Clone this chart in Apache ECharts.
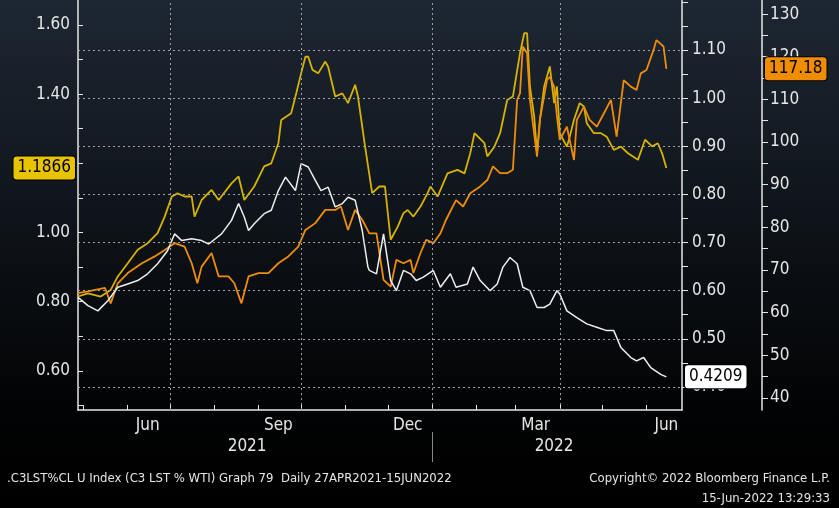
<!DOCTYPE html>
<html>
<head>
<meta charset="utf-8">
<script src="https://cdn.jsdelivr.net/npm/echarts@6/dist/echarts.min.js"></script>
<style>
html,body{margin:0;padding:0;background:#000;}
#chart{width:839px;height:508px;}
</style>
</head>
<body>
<div id="chart"></div>
<script>
// C3 LST % WTI 图，数据为自 2021-04-27 起的天数
const START = Date.UTC(2021, 3, 27);
const DAY = 86400000;
const FONT = '"DejaVu Sans Condensed", "Liberation Sans Narrow", sans-serif';

const yellow = [[0,0.815],[7,0.824],[16,0.815],[23,0.834],[28,0.873],[35,0.911],[42,0.950],[49,0.969],[56,0.998],[61,1.046],[66,1.104],[70,1.113],[75,1.104],[80,1.104],[82,1.046],[87,1.094],[94,1.123],[99,1.094],[108,1.142],[113,1.162],[117,1.094],[124,1.133],[131,1.191],[136,1.200],[141,1.258],[143,1.325],[150,1.345],[153,1.393],[157,1.460],[160,1.508],[162,1.508],[165,1.470],[169,1.460],[174,1.494],[176,1.479],[181,1.393],[186,1.402],[190,1.374],[195,1.427],[197,1.393],[202,1.248],[207,1.114],[212,1.133],[216,1.133],[220,0.979],[225,1.017],[229,1.056],[232,1.065],[236,1.046],[241,1.075],[246,1.114],[248,1.133],[253,1.104],[260,1.171],[267,1.181],[272,1.171],[276,1.229],[279,1.287],[286,1.258],[288,1.220],[293,1.248],[297,1.287],[302,1.383],[306,1.393],[311,1.518],[314,1.576],[316,1.576],[318,1.422],[321,1.335],[323,1.229],[325,1.325],[328,1.422],[330,1.451],[332,1.480],[335,1.374],[337,1.422],[339,1.287],[344,1.248],[346,1.277],[349,1.326],[353,1.374],[356,1.364],[358,1.316],[363,1.287],[368,1.287],[372,1.277],[377,1.239],[382,1.248],[387,1.229],[394,1.210],[399,1.268],[404,1.249],[408,1.258],[411,1.229],[414,1.1866]];

const orange = [[0,64.6],[7,65.0],[19,65.8],[23,62.2],[28,66.9],[35,69.3],[45,71.6],[54,73.2],[61,74.7],[68,76.3],[75,75.5],[80,71.6],[84,66.9],[87,70.8],[94,74.0],[99,68.5],[106,68.5],[110,66.9],[115,62.2],[120,68.5],[127,69.3],[134,69.3],[141,71.6],[148,73.2],[155,75.5],[160,79.4],[167,81.0],[174,84.1],[181,84.1],[185,84.9],[190,79.4],[195,84.1],[200,81.8],[205,78.6],[210,78.6],[215,67.7],[220,66.1],[224,72.4],[229,71.6],[234,72.4],[236,69.3],[241,74.0],[245,77.1],[250,76.3],[255,78.6],[259,81.8],[266,86.4],[271,84.9],[276,88.0],[283,89.6],[288,91.1],[292,94.3],[297,92.7],[302,92.7],[306,93.5],[309,109.9],[311,111.4],[313,122.4],[316,120.8],[318,109.9],[323,96.6],[325,105.2],[330,114.5],[332,115.3],[335,113.0],[337,106.0],[339,100.5],[344,103.6],[349,95.8],[351,105.2],[356,108.3],[360,105.2],[365,103.6],[370,106.7],[375,109.9],[379,101.3],[384,114.5],[389,113.0],[393,112.2],[396,116.1],[400,116.9],[405,121.6],[407,123.9],[412,122.4],[414,117.18]];

const white = [[0,0.586],[7,0.569],[14,0.558],[21,0.579],[28,0.607],[35,0.614],[42,0.621],[49,0.635],[56,0.656],[63,0.683],[68,0.718],[73,0.704],[80,0.708],[87,0.704],[92,0.697],[101,0.718],[108,0.746],[113,0.781],[117,0.753],[120,0.725],[124,0.739],[131,0.760],[136,0.767],[141,0.808],[146,0.836],[153,0.808],[157,0.864],[162,0.857],[167,0.829],[171,0.808],[176,0.815],[181,0.774],[186,0.781],[190,0.794],[195,0.788],[200,0.725],[204,0.649],[205,0.642],[210,0.635],[215,0.718],[220,0.621],[224,0.600],[229,0.642],[234,0.635],[238,0.621],[243,0.628],[250,0.642],[255,0.607],[262,0.635],[266,0.607],[274,0.614],[278,0.649],[283,0.621],[290,0.600],[295,0.614],[299,0.649],[304,0.669],[309,0.656],[313,0.607],[318,0.600],[323,0.565],[328,0.565],[332,0.572],[337,0.600],[339,0.593],[344,0.558],[351,0.544],[358,0.531],[365,0.524],[372,0.517],[377,0.517],[382,0.482],[389,0.461],[393,0.454],[398,0.461],[403,0.440],[410,0.426],[414,0.4209]];

const toTime = arr => arr.map(([d, v]) => [START + d * DAY, v]);
const utc = (y, m, d) => Date.UTC(y, m - 1, d);

const monthStarts = [];
for (let i = 5; i <= 18; i++) monthStarts.push(Date.UTC(2021, i - 1, 1));
const monthLabels = [utc(2021,6,15), utc(2021,9,15), utc(2021,12,15), utc(2022,3,15), utc(2022,6,15)];
const quarterLines = [utc(2021,7,1), utc(2021,10,1), utc(2022,1,1), utc(2022,4,1)];
const monthNames = ['Jan','Feb','Mar','Apr','May','Jun','Jul','Aug','Sep','Oct','Nov','Dec'];

const axisText = { color: '#e6e6e6', fontSize: 17, fontFamily: FONT };
const dash = { color: '#a0a0a0', type: [2, 3], width: 1 };
const foot = { color: '#e6e6e6', fontSize: 13, fontWeight: 'normal', fontFamily: FONT };

function pointer(value, bg, fg, fmt) {
  return {
    show: true, value, status: 'show', triggerTooltip: false, triggerEmphasis: false,
    lineStyle: { opacity: 0 },
    label: { show: true, backgroundColor: bg, color: fg, fontSize: 17, fontFamily: FONT,
      padding: [3, 4], borderColor: '#000', borderWidth: 1, formatter: () => fmt }
  };
}

const chart = echarts.init(document.getElementById('chart'));
chart.setOption({
  animation: false,
  backgroundColor: new echarts.graphic.LinearGradient(0, 0, 0, 1, [
    { offset: 0, color: '#1d2733' }, { offset: 0.8, color: '#020304' }, { offset: 1, color: '#000' }
  ]),
  grid: { left: 78, right: 157, top: 0, bottom: 98 },
  title: [
    { text: '.C3LST%CL U Index (C3 LST % WTI) Graph 79  Daily 27APR2021-15JUN2022', left: 2, top: 467, textStyle: foot },
    { text: 'Copyright\u00a9 2022 Bloomberg Finance L.P.', right: 4, top: 467, textStyle: foot },
    { text: '15-Jun-2022 13:29:33', right: 4, top: 487, textStyle: foot }
  ],
  xAxis: [{
    type: 'value', min: START, max: utc(2022,6,26),
    axisLine: { lineStyle: { color: '#e6e6e6', width: 1.5 } },
    axisTick: { inside: true, length: 5, lineStyle: { color: '#e6e6e6' }, customValues: monthStarts },
    axisLabel: { ...axisText, margin: 7, customValues: monthLabels,
      formatter: v => monthNames[new Date(v).getUTCMonth()] },
    splitLine: { show: false }
  }, {
    type: 'value', min: START, max: utc(2022,6,26), position: 'bottom', offset: 22,
    axisLine: { show: false },
    axisTick: { show: true, length: 30, lineStyle: { color: '#888' }, customValues: [utc(2022,1,1)] },
    axisLabel: { ...axisText, margin: 6, customValues: [utc(2021,8,24), utc(2022,3,28)],
      formatter: v => String(new Date(v).getUTCFullYear()) },
    splitLine: { show: false }
  }],
  yAxis: [{
    type: 'value', min: 0.487, max: 1.672, position: 'left',
    axisLine: { show: true, lineStyle: { color: '#e6e6e6', width: 1.5 } },
    axisTick: { show: true, inside: true, length: 5, lineStyle: { color: '#e6e6e6' },
      customValues: [0.5,0.6,0.7,0.8,0.9,1.0,1.1,1.2,1.3,1.4,1.5,1.6] },
    axisLabel: { ...axisText, customValues: [0.6,0.8,1.0,1.4,1.6], formatter: v => v.toFixed(2) },
    splitLine: { show: false },
    axisPointer: pointer(1.1866, '#e8c400', '#000', '1.1866')
  }, {
    type: 'value', min: 0.352, max: 1.204, position: 'right',
    axisLine: { show: true, lineStyle: { color: '#e6e6e6', width: 1.5 } },
    axisTick: { show: true, inside: false, length: 6, lineStyle: { color: '#e6e6e6' },
      customValues: [0.4,0.45,0.5,0.55,0.6,0.65,0.7,0.75,0.8,0.85,0.9,0.95,1.0,1.05,1.1,1.15,1.2] },
    axisLabel: { ...axisText, margin: 10, customValues: [0.4,0.5,0.6,0.7,0.8,0.9,1.0,1.1], formatter: v => v.toFixed(2) },
    splitLine: { show: false },
    axisPointer: pointer(0.4209, '#ffffff', '#000', '0.4209')
  }, {
    type: 'value', min: 37.2, max: 133.3, position: 'right', offset: 80,
    axisLine: { show: true, lineStyle: { color: '#e6e6e6', width: 1.5 } },
    axisTick: { show: true, length: 6, lineStyle: { color: '#e6e6e6' },
      customValues: [40,45,50,55,60,65,70,75,80,85,90,95,100,105,110,115,120,125,130] },
    axisLabel: { ...axisText, margin: 8, customValues: [40,50,60,70,80,90,100,110,120,130] },
    splitLine: { show: false },
    axisPointer: pointer(117.18, '#f08c00', '#000', '117.18')
  }],
  series: [{
    name: 'grid', type: 'line', yAxisIndex: 1, data: [], silent: true,
    markLine: {
      symbol: 'none', silent: true, label: { show: false }, lineStyle: dash,
      data: [0.4,0.5,0.6,0.7,0.8,0.9,1.0,1.1].map(v => ({ yAxis: v }))
        .concat(quarterLines.map(t => ({ xAxis: t })))
    }
  }, {
    name: 'C3 LST', type: 'line', yAxisIndex: 0, showSymbol: false, data: toTime(yellow),
    lineStyle: { color: '#d6b300', width: 1.8 }, itemStyle: { color: '#d6b300' }
  }, {
    name: 'WTI', type: 'line', yAxisIndex: 2, showSymbol: false, data: toTime(orange),
    lineStyle: { color: '#ee8c0a', width: 1.8 }, itemStyle: { color: '#ee8c0a' }
  }, {
    name: 'C3 LST % WTI', type: 'line', yAxisIndex: 1, showSymbol: false, data: toTime(white),
    lineStyle: { color: '#eeeeee', width: 1.5 }, itemStyle: { color: '#eeeeee' }
  }]
});
</script>
</body>
</html>
